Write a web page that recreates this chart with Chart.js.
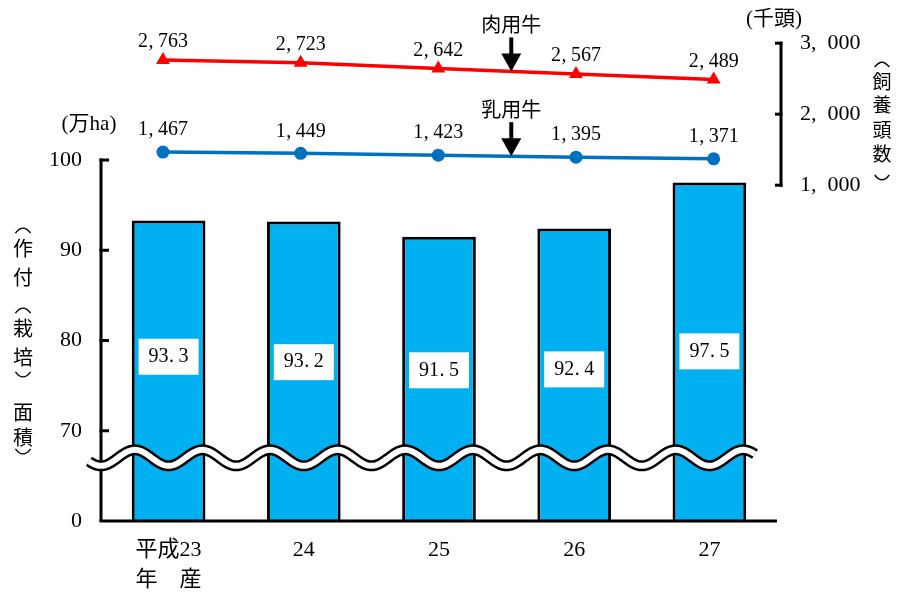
<!DOCTYPE html>
<html>
<head>
<meta charset="utf-8">
<script src="https://cdn.jsdelivr.net/npm/chart.js@4.4.0/dist/chart.umd.min.js"></script>
<style>
  html, body { margin: 0; padding: 0; background: #fff; }
  canvas { display: block; }
</style>
</head>
<body>
<canvas id="c" width="898" height="592"></canvas>
<script>
// 作付(栽培)面積 (万ha) and 飼養頭数 (千頭), 平成23〜27年産
const years = [['平成23', '年　産'], '24', '25', '26', '27'];
const areaValues = [93.3, 93.2, 91.5, 92.4, 97.5];
const beefHead = [2763, 2723, 2642, 2567, 2489];
const dairyHead = [1467, 1449, 1423, 1395, 1371];
const areaTicks = [0, 70, 80, 90, 100];
const headTicks = [1000, 2000, 3000];

// The area axis is broken below 70: its "0" tick is drawn where 60 would sit.
const AREA_BREAK_BASE = 60;

const SERIF = "'Liberation Serif', 'Noto Sans CJK JP', serif";
const CJK = "'Noto Sans CJK JP', 'Liberation Serif', sans-serif";
const INK = '#000';

const fmtHead = v => {
  const s = String(v);
  return s.length > 3 ? s.slice(0, -3) + ',\u2002' + s.slice(-3) : s;
};

// Numbers drawn on half-width cells, punctuation hugging the left of its cell.
function drawCells(ctx, text, cx, cy, size) {
  const cell = size * 0.5;
  let x = cx - (text.length * cell) / 2;
  ctx.font = size + 'px ' + SERIF;
  ctx.textBaseline = 'middle';
  for (const ch of text) {
    if (ch === ',' || ch === '.') {
      ctx.textAlign = 'left';
      ctx.fillText(ch, x + cell * 0.05, cy);
    } else {
      ctx.textAlign = 'center';
      ctx.fillText(ch, x + cell / 2, cy);
    }
    x += cell;
  }
}

// Vertical title: one glyph per position; brackets become arcs (︵ ︶).
function drawVertical(ctx, glyphs, x, size) {
  ctx.textAlign = 'center';
  ctx.textBaseline = 'middle';
  ctx.font = size + 'px ' + CJK;
  ctx.strokeStyle = INK;
  ctx.lineWidth = 1.4;
  const hw = size * 0.38, h = size * 0.16;
  for (const [ch, y] of glyphs) {
    if (ch === '（' || ch === '）') {
      const s = ch === '（' ? 1 : -1;
      ctx.beginPath();
      ctx.moveTo(x - hw, y + s * h);
      ctx.quadraticCurveTo(x, y - s * h * 2.2, x + hw, y + s * h);
      ctx.stroke();
    } else {
      ctx.fillText(ch, x, y);
    }
  }
}

function seg(ctx, x0, y0, x1, y1) {
  ctx.beginPath();
  ctx.moveTo(x0, y0);
  ctx.lineTo(x1, y1);
  ctx.stroke();
}

function lineYAt(meta, px) {
  const pts = meta.data;
  for (let i = 0; i < pts.length - 1; i++) {
    const a = pts[i], b = pts[i + 1];
    if (px >= a.x && px <= b.x) {
      const t = (px - a.x) / (b.x - a.x);
      return a.y + t * (b.y - a.y);
    }
  }
  return pts[pts.length - 1].y;
}

function drawArrow(ctx, x, tipY, label) {
  const len = 34, headH = 18, headW = 20, shaft = 4;
  ctx.fillStyle = INK;
  ctx.fillRect(x - shaft / 2, tipY - len, shaft, len - headH + 1);
  ctx.beginPath();
  ctx.moveTo(x - headW / 2, tipY - headH);
  ctx.lineTo(x + headW / 2, tipY - headH);
  ctx.lineTo(x, tipY);
  ctx.closePath();
  ctx.fill();
  ctx.font = '20px ' + CJK;
  ctx.textAlign = 'center';
  ctx.textBaseline = 'middle';
  ctx.fillText(label, x, tipY - len - 13);
}

const decor = {
  id: 'decor',
  afterDatasetsDraw(chart, args, opts) {
    const { ctx, chartArea: a, scales } = chart;
    const { x, xh, y, yh } = scales;
    ctx.save();
    ctx.strokeStyle = INK;
    ctx.fillStyle = INK;
    ctx.lineWidth = 3;
    ctx.lineCap = 'butt';

    // left axis with inward ticks
    const yTop = y.getPixelForValue(100);
    const yBot = y.getPixelForValue(AREA_BREAK_BASE);
    seg(ctx, a.left, yTop - 1.5, a.left, yBot);
    y.ticks.forEach(t => {
      if (t.value === AREA_BREAK_BASE) return;
      const p = y.getPixelForValue(t.value);
      seg(ctx, a.left - 1.5, p, a.left + 8, p);
    });
    // category axis
    seg(ctx, a.left - 1.5, yBot, a.right, yBot);

    // right-hand bracket for head counts
    const bx = a.right + 4;
    const hTop = yh.getPixelForValue(headTicks[headTicks.length - 1]);
    const hBot = yh.getPixelForValue(headTicks[0]);
    seg(ctx, bx, hTop - 1.5, bx, hBot + 1.5);
    yh.ticks.forEach(t => {
      const p = yh.getPixelForValue(t.value);
      seg(ctx, bx - 6, p, bx + 1.5, p);
    });

    // axis break wave
    const c0 = x.getPixelForValue(0);
    const period = (x.getPixelForValue(1) - c0) / 2;
    const wy = y.getPixelForValue(67);
    const wx0 = a.left - 12;
    const wx1 = x.getPixelForValue(x.ticks.length - 1) + 46;
    ctx.beginPath();
    for (let px = wx0; px <= wx1; px += 1) {
      const py = wy + 8 * Math.cos(2 * Math.PI * (px - c0) / period);
      if (px === wx0) ctx.moveTo(px, py); else ctx.lineTo(px, py);
    }
    ctx.lineJoin = 'round';
    ctx.strokeStyle = INK;
    ctx.lineWidth = 11;
    ctx.stroke();
    ctx.strokeStyle = '#fff';
    ctx.lineWidth = 6;
    ctx.stroke();

    // bar value boxes
    const barMeta = chart.getDatasetMeta(2);
    barMeta.data.forEach((bar, i) => {
      const cy = y.getPixelForValue(opts.boxLevels[i]);
      ctx.fillStyle = '#fff';
      ctx.fillRect(bar.x - 30, cy - 18, 60, 36);
      ctx.fillStyle = INK;
      drawCells(ctx, areaValues[i].toFixed(1), bar.x, cy, 20);
    });

    // line value labels
    [[0, beefHead, 18], [1, dairyHead, 22]].forEach(([di, vals, off]) => {
      const meta = chart.getDatasetMeta(di);
      meta.data.forEach((pt, i) => {
        ctx.fillStyle = INK;
        drawCells(ctx, vals[i].toLocaleString('en-US'), pt.x, pt.y - off, 20);
      });
    });

    // series callouts
    const ax = xh.getPixelForValue(2.53);
    drawArrow(ctx, ax, lineYAt(chart.getDatasetMeta(0), ax), '肉用牛');
    drawArrow(ctx, ax, lineYAt(chart.getDatasetMeta(1), ax), '乳用牛');

    // unit captions
    ctx.fillStyle = INK;
    ctx.font = '21px ' + SERIF;
    ctx.textAlign = 'center';
    ctx.textBaseline = 'middle';
    ctx.fillText('(万ha)', 89, 124);
    ctx.fillText('(千頭)', 774, 19);

    // axis titles
    drawVertical(ctx, [
      ['（', 230], ['作', 248], ['付', 277], ['（', 310], ['栽', 328],
      ['培', 357], ['）', 375], ['面', 412], ['積', 437], ['）', 452]
    ], 23, 20);
    drawVertical(ctx, [
      ['（', 64], ['飼', 82], ['養', 105], ['頭', 130], ['数', 154], ['）', 178]
    ], 882, 19);

    ctx.restore();
  }
};

const tickFont = { family: SERIF, size: 22 };

new Chart(document.getElementById('c'), {
  data: {
    labels: years,
    datasets: [
      {
        type: 'line', label: '肉用牛',
        data: beefHead.map((v, i) => ({ x: i, y: v })),
        xAxisID: 'xh', yAxisID: 'yh',
        borderColor: '#FF0000', backgroundColor: '#FF0000', borderWidth: 3.5,
        pointStyle: 'triangle', pointRadius: 8, pointBorderWidth: 0,
        tension: 0, order: 0
      },
      {
        type: 'line', label: '乳用牛',
        data: dairyHead.map((v, i) => ({ x: i, y: v })),
        xAxisID: 'xh', yAxisID: 'yh',
        borderColor: '#0070C0', backgroundColor: '#0070C0', borderWidth: 3.5,
        pointStyle: 'circle', pointRadius: 6.5, pointBorderWidth: 0,
        tension: 0, order: 0
      },
      {
        type: 'bar', label: '作付(栽培)面積',
        data: areaValues,
        xAxisID: 'x', yAxisID: 'y',
        backgroundColor: '#00B0F0', borderColor: INK, borderWidth: 3,
        borderSkipped: false, grouped: false,
        categoryPercentage: 1, barPercentage: 0.545,
        order: 1
      }
    ]
  },
  options: {
    responsive: false,
    animation: false,
    devicePixelRatio: 1,
    layout: { padding: { top: 40, left: 0, right: 0, bottom: 0 } },
    plugins: {
      legend: { display: false },
      tooltip: { enabled: false },
      decor: { boxLevels: [78.2, 77.6, 76.7, 76.8, 78.8] }
    },
    scales: {
      x: {
        type: 'category', position: 'bottom', offset: true,
        grid: { display: false, drawTicks: false, offset: true },
        border: { display: false },
        ticks: {
          padding: 14, color: INK, maxRotation: 0, autoSkip: false,
          font: { family: SERIF, size: 22, lineHeight: 30 / 22 }
        },
        afterFit(s) { s.height = 71; }
      },
      xh: { type: 'linear', display: false, min: -0.45, max: 4.46 },
      y: {
        type: 'linear', position: 'left',
        min: AREA_BREAK_BASE, max: 113.3,
        afterBuildTicks(s) {
          s.ticks = areaTicks.map(v => ({ value: v === 0 ? AREA_BREAK_BASE : v }));
        },
        ticks: {
          padding: 19, color: INK, font: tickFont,
          callback: v => String(v === AREA_BREAK_BASE ? areaTicks[0] : v)
        },
        grid: { display: false, drawTicks: false },
        border: { display: false },
        afterFit(s) { s.width = 101; }
      },
      yh: {
        type: 'linear', position: 'right',
        min: -3730, max: 3045,
        afterBuildTicks(s) { s.ticks = headTicks.map(v => ({ value: v })); },
        ticks: { padding: 23, color: INK, font: tickFont, callback: v => fmtHead(v) },
        grid: { display: false, drawTicks: false },
        border: { display: false },
        afterFit(s) { s.width = 121; }
      }
    }
  },
  plugins: [decor]
});
</script>
</body>
</html>
